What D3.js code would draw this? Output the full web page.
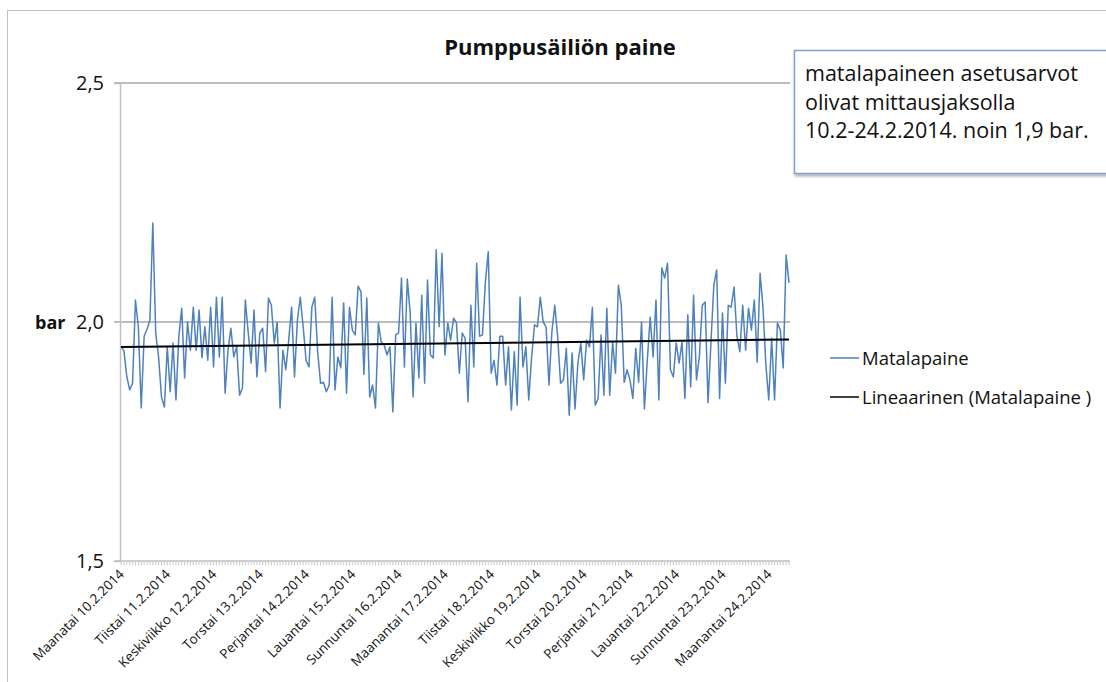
<!DOCTYPE html>
<html lang="fi">
<head>
<meta charset="UTF-8">
<title>Pumppusäiliön paine</title>
<script src="https://d3js.org/d3.v7.min.js"></script>
<style>
  body { margin: 0; background: #fff; }
  svg { font-family: "Open Sans", sans-serif; }
  .grid { stroke: #a6a6a6; stroke-width: 1.5px; }
  .axis line, .axis path { stroke: #bfbfbf; }
</style>
</head>
<body>
<svg width="1106" height="682"></svg>
<script>
// Matalapaine (bar), left to right
const matalapaine = [
  1.949, 1.94, 1.886, 1.858, 1.872, 2.046, 1.99, 1.82, 1.97, 1.985, 2.004, 2.207, 1.977, 1.927, 1.843, 1.822,
  1.948, 1.854, 1.956, 1.837, 1.97, 2.029, 1.883, 2.0, 1.941, 2.031, 1.941, 2.025, 1.925, 1.99, 1.92, 2.031,
  1.906, 2.052, 1.927, 2.052, 1.851, 1.941, 1.987, 1.927, 1.949, 1.847, 1.862, 2.046, 1.977, 1.914, 2.025, 1.885,
  1.977, 1.987, 1.896, 2.05, 2.035, 1.956, 2.0, 1.82, 1.941, 1.9, 1.962, 2.031, 1.885, 2.004, 2.052, 1.99,
  1.92, 1.906, 2.031, 2.052, 1.938, 1.872, 1.874, 1.854, 1.868, 2.052, 1.858, 1.927, 1.904, 2.04, 1.851,
  2.031, 1.983, 1.973, 2.075, 2.063, 1.89, 2.05, 1.843, 1.868, 1.82, 1.998, 1.958, 1.952, 1.931, 1.948, 1.812,
  1.973, 1.977, 2.092, 1.906, 2.09, 2.019, 1.843, 1.998, 1.883, 2.056, 1.872, 2.088, 1.931, 1.925, 2.151, 1.99,
  2.144, 1.931, 1.998, 1.962, 2.008, 1.998, 1.893, 1.977, 1.966, 1.833, 2.035, 1.906, 2.123, 1.97, 1.973, 2.084,
  2.147, 1.893, 1.92, 1.868, 1.97, 1.97, 1.868, 1.948, 1.816, 1.938, 1.826, 2.052, 1.906, 1.948, 1.837, 1.927,
  1.994, 1.99, 2.052, 2.0, 1.99, 1.868, 1.979, 2.035, 1.97, 1.872,
  1.879, 1.945, 1.805, 1.935, 1.818, 1.914, 1.956, 1.879, 1.962, 1.948, 2.031, 1.826, 1.84, 1.973, 1.847, 2.029,
  1.847, 1.958, 1.893, 2.077, 2.035, 1.874, 1.9, 1.879, 1.84, 1.945, 1.874, 2.0, 1.818, 1.92, 2.01, 1.927,
  2.046, 1.837, 2.113, 2.092, 2.123, 1.9, 1.885, 1.956, 1.914, 1.958, 1.84, 2.015, 1.864, 2.056, 1.879, 1.927,
  2.035, 2.042, 1.831, 1.956, 2.077, 2.109, 1.84, 2.019, 1.872, 2.035, 2.031, 2.073, 1.97, 1.938, 2.035, 1.941,
  2.029, 1.983, 2.046, 1.916, 2.102, 2.031, 1.91, 1.837, 1.966, 1.837, 1.998, 1.983, 1.904, 2.14, 2.082
];

const paivat = [
  "Maanatai 10.2.2014", "Tiistai 11.2.2014", "Keskiviikko 12.2.2014", "Torstai 13.2.2014",
  "Perjantai 14.2.2014", "Lauantai 15.2.2014", "Sunnuntai 16.2.2014", "Maanantai 17.2.2014",
  "Tiistai 18.2.2014", "Keskiviikko 19.2.2014", "Torstai 20.2.2014", "Perjantai 21.2.2014",
  "Lauantai 22.2.2014", "Sunnuntai 23.2.2014", "Maanantai 24.2.2014"
];
const mittauksiaPaivassa = 16;

const yTicks = [1.5, 2.0, 2.5];
const gridRivit = [2.0, 2.5];

const svg = d3.select("svg");
const n = matalapaine.length;

const x = d3.scaleLinear().domain([0, n - 1]).range([121, 789]);
const y = d3.scaleLinear().domain([1.5, 2.5]).range([561, 83]);

// ulkoreunus
svg.append("rect")
  .attr("x", 7.5).attr("y", 10.5)
  .attr("width", 1300).attr("height", 1000)
  .attr("fill", "none").attr("stroke", "#bfbfbf");

svg.append("text")
  .attr("x", 560).attr("y", 55)
  .attr("text-anchor", "middle")
  .attr("font-size", 22).attr("font-weight", "bold")
  .attr("fill", "#111")
  .text("Pumppusäiliön paine");

// vaakaviivat
svg.selectAll(".grid")
  .data(gridRivit)
  .enter()
  .append("line")
  .attr("class", "grid")
  .attr("x1", 114).attr("x2", 790)
  .attr("y1", d => y(d)).attr("y2", d => y(d));

// y-akseli
const yAxis = svg.append("g")
  .attr("class", "axis")
  .attr("transform", "translate(120,0)")
  .call(d3.axisLeft(y).tickValues(yTicks).tickSize(6).tickPadding(10)
    .tickFormat(d => d3.format(".1f")(d).replace(".", ",")));
yAxis.select(".domain").attr("stroke-width", 1.5);
yAxis.selectAll("text").attr("font-size", 20).attr("fill", "#111").attr("font-family", "Open Sans");

svg.append("text")
  .attr("x", 35).attr("y", 329)
  .attr("font-size", 18).attr("font-weight", "bold")
  .attr("fill", "#111")
  .text("bar");

// x-akseli
svg.append("line")
  .attr("x1", 114).attr("x2", 790)
  .attr("y1", y(1.5)).attr("y2", y(1.5))
  .attr("stroke", "#bfbfbf").attr("stroke-width", 1.5);

svg.selectAll(".xtick")
  .data(d3.range(n))
  .enter()
  .append("line")
  .attr("class", "xtick")
  .attr("x1", d => x(d)).attr("x2", d => x(d))
  .attr("y1", y(1.5)).attr("y2", y(1.5) + 4)
  .attr("stroke", "#c8c8c8");

svg.selectAll(".xlabel")
  .data(paivat)
  .enter()
  .append("text")
  .attr("class", "xlabel")
  .attr("text-anchor", "end")
  .attr("font-size", 13.4)
  .attr("fill", "#111")
  .attr("transform", (d, i) => `translate(${x(i * mittauksiaPaivassa) + 4},${y(1.5) + 14}) rotate(-45)`)
  .text(d => d);

// sarja
const line = d3.line()
  .x((d, i) => x(i))
  .y(d => y(d));

svg.append("path")
  .datum(matalapaine)
  .attr("fill", "none")
  .attr("stroke", "#4f81bd")
  .attr("stroke-width", 1.5)
  .attr("stroke-linejoin", "round")
  .attr("d", line);

// lineaarinen trendi (pienimmän neliösumman sovitus)
const idx = d3.range(n);
const mx = d3.mean(idx), my = d3.mean(matalapaine);
const k = d3.sum(idx, i => (i - mx) * (matalapaine[i] - my)) / d3.sum(idx, i => (i - mx) * (i - mx));
const b = my - k * mx;
svg.append("line")
  .attr("x1", x(0)).attr("y1", y(b))
  .attr("x2", x(n - 1)).attr("y2", y(b + k * (n - 1)))
  .attr("stroke", "#000").attr("stroke-width", 2);

// legenda
const legenda = [
  { nimi: "Matalapaine", vari: "#4f81bd", w: 1.5 },
  { nimi: "Lineaarinen (Matalapaine )", vari: "#000", w: 1.5 }
];
const lg = svg.selectAll(".leg")
  .data(legenda)
  .enter()
  .append("g")
  .attr("class", "leg")
  .attr("transform", (d, i) => `translate(830,${358 + i * 39})`);
lg.append("line")
  .attr("x1", 0).attr("x2", 29)
  .attr("stroke", d => d.vari).attr("stroke-width", d => d.w);
lg.append("text")
  .attr("x", 32).attr("y", 6.5)
  .attr("font-size", 18.5).attr("fill", "#111")
  .text(d => d.nimi);

// tekstilaatikko
const defs = svg.append("defs");
defs.append("filter").attr("id", "varjo")
  .append("feDropShadow")
  .attr("dx", 1).attr("dy", 2).attr("stdDeviation", 1.5)
  .attr("flood-color", "#000").attr("flood-opacity", 0.35);

svg.append("rect")
  .attr("x", 794.5).attr("y", 50.5)
  .attr("width", 330).attr("height", 123)
  .attr("fill", "#fff")
  .attr("stroke", "#7f9fcf").attr("stroke-width", 1.5)
  .attr("filter", "url(#varjo)");

const rivit = ["matalapaineen asetusarvot", "olivat mittausjaksolla", "10.2-24.2.2014. noin 1,9 bar."];
svg.selectAll(".huom")
  .data(rivit)
  .enter()
  .append("text")
  .attr("class", "huom")
  .attr("x", 805)
  .attr("y", (d, i) => 81 + i * 28.5)
  .attr("font-size", 21.5)
  .attr("fill", "#111")
  .text(d => d);
</script>
</body>
</html>
